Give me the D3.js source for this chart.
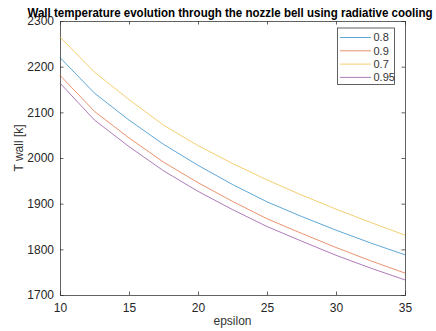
<!DOCTYPE html>
<html>
<head>
<meta charset="utf-8">
<script src="https://cdn.jsdelivr.net/npm/d3@7"></script>
<style>
  body { margin: 0; background: #fff; }
  text { font-family: "Liberation Sans", Arial, sans-serif; fill: #262626; }
</style>
</head>
<body>
<div id="chart"></div>
<script>
  // epsilon values (x) and wall temperature for each emissivity
  var epsilon = [10, 12.5, 15, 17.5, 20, 22.5, 25, 27.5, 30, 32.5, 35];
  var t08  = [2220, 2142, 2083, 2030, 1984, 1942, 1904, 1872, 1842, 1814, 1788];
  var t09  = [2181, 2102, 2044, 1991, 1946, 1905, 1867, 1835, 1804, 1775, 1748];
  var t07  = [2265, 2188, 2128, 2072, 2027, 1988, 1952, 1919, 1888, 1859, 1831];
  var t095 = [2164, 2083, 2025, 1972, 1927, 1887, 1850, 1818, 1787, 1759, 1733];

  var seriesNames = ['0.8', '0.9', '0.7', '0.95'];
  var xTicks = [10, 15, 20, 25, 30, 35];
  var yTicks = [1700, 1800, 1900, 2000, 2100, 2200, 2300];

  (function(){
    var colors = ['#0072BD', '#D95319', '#EDB120', '#7E2F8E'];
    var allSeries = [t08, t09, t07, t095];

    var width = 436, height = 331;
    var mLeft = 60, mRight = 405, mTop = 21, mBottom = 295;

    var svg = d3.select('#chart').append('svg')
        .attr('width', width)
        .attr('height', height);

    var x = d3.scaleLinear().domain([10, 35]).range([mLeft, mRight]);
    var y = d3.scaleLinear().domain([1700, 2300]).range([mBottom, mTop]);

    var tickLen = 3.5;
    var axisColor = '#3a3a3a';

    // bottom axis
    var gx = svg.append('g')
        .attr('transform', 'translate(0,' + mBottom + ')')
        .call(d3.axisBottom(x).tickValues(xTicks).tickSize(-tickLen).tickPadding(8));
    // top axis (ticks only)
    var gxt = svg.append('g')
        .attr('transform', 'translate(0,' + mTop + ')')
        .call(d3.axisTop(x).tickValues(xTicks).tickSize(-tickLen).tickFormat(''));
    // left axis
    var gy = svg.append('g')
        .attr('transform', 'translate(' + mLeft + ',0)')
        .call(d3.axisLeft(y).tickValues(yTicks).tickSize(-tickLen).tickPadding(6).tickFormat(d3.format('d')));
    // right axis (ticks only)
    var gyr = svg.append('g')
        .attr('transform', 'translate(' + mRight + ',0)')
        .call(d3.axisRight(y).tickValues(yTicks).tickSize(-tickLen).tickFormat(''));

    [gx, gxt, gy, gyr].forEach(function(g){
      g.select('.domain').attr('stroke', axisColor).attr('stroke-width', 0.8);
      g.selectAll('.tick line').attr('stroke', axisColor).attr('stroke-width', 0.8);
      g.selectAll('.tick text')
        .attr('fill', '#333')
        .style('font-size', '12px')
        .style('font-family', '"Liberation Sans", Arial, sans-serif');
    });

    // lines
    var line = d3.line()
        .x(function(d, i){ return x(epsilon[i]); })
        .y(function(d){ return y(d); });

    svg.append('g').selectAll('path')
      .data(allSeries)
      .enter()
      .append('path')
      .attr('d', line)
      .attr('fill', 'none')
      .attr('stroke', function(d, i){ return colors[i]; })
      .attr('stroke-width', 0.9)
      .attr('opacity', 0.7);

    // legend
    var lg = svg.append('g');
    lg.append('rect')
      .attr('x', 337.5).attr('y', 28)
      .attr('width', 57).attr('height', 56.5)
      .attr('fill', '#fff')
      .attr('stroke', axisColor)
      .attr('stroke-width', 0.8);

    var items = lg.selectAll('g.item')
      .data(seriesNames)
      .enter()
      .append('g')
      .attr('class', 'item')
      .attr('transform', function(d, i){ return 'translate(0,' + (37.5 + i * 13.3) + ')'; });

    items.append('line')
      .attr('x1', 340).attr('x2', 371)
      .attr('stroke', function(d, i){ return colors[i]; })
      .attr('stroke-width', 0.9)
      .attr('opacity', 0.7);

    items.append('text')
      .attr('x', 373.5)
      .attr('dy', '0.35em')
      .style('font-size', '11px')
      .style('fill', '#333')
      .text(function(d){ return d; });

    // title
    svg.append('text')
      .attr('x', 230).attr('y', 16.5)
      .attr('text-anchor', 'middle')
      .attr('textLength', 405)
      .attr('lengthAdjust', 'spacingAndGlyphs')
      .style('font-size', '12.5px')
      .style('font-weight', 'bold')
      .style('fill', '#000')
      .text('Wall temperature evolution through the nozzle bell using radiative cooling');

    // axis labels
    svg.append('text')
      .attr('x', (mLeft + mRight) / 2).attr('y', 325)
      .attr('text-anchor', 'middle')
      .style('font-size', '12px')
      .style('fill', '#333')
      .text('epsilon');

    svg.append('text')
      .attr('transform', 'translate(23,148) rotate(-90)')
      .attr('text-anchor', 'middle')
      .style('font-size', '12px')
      .style('fill', '#333')
      .text('T wall [k]');
  })();
</script>
</body>
</html>
